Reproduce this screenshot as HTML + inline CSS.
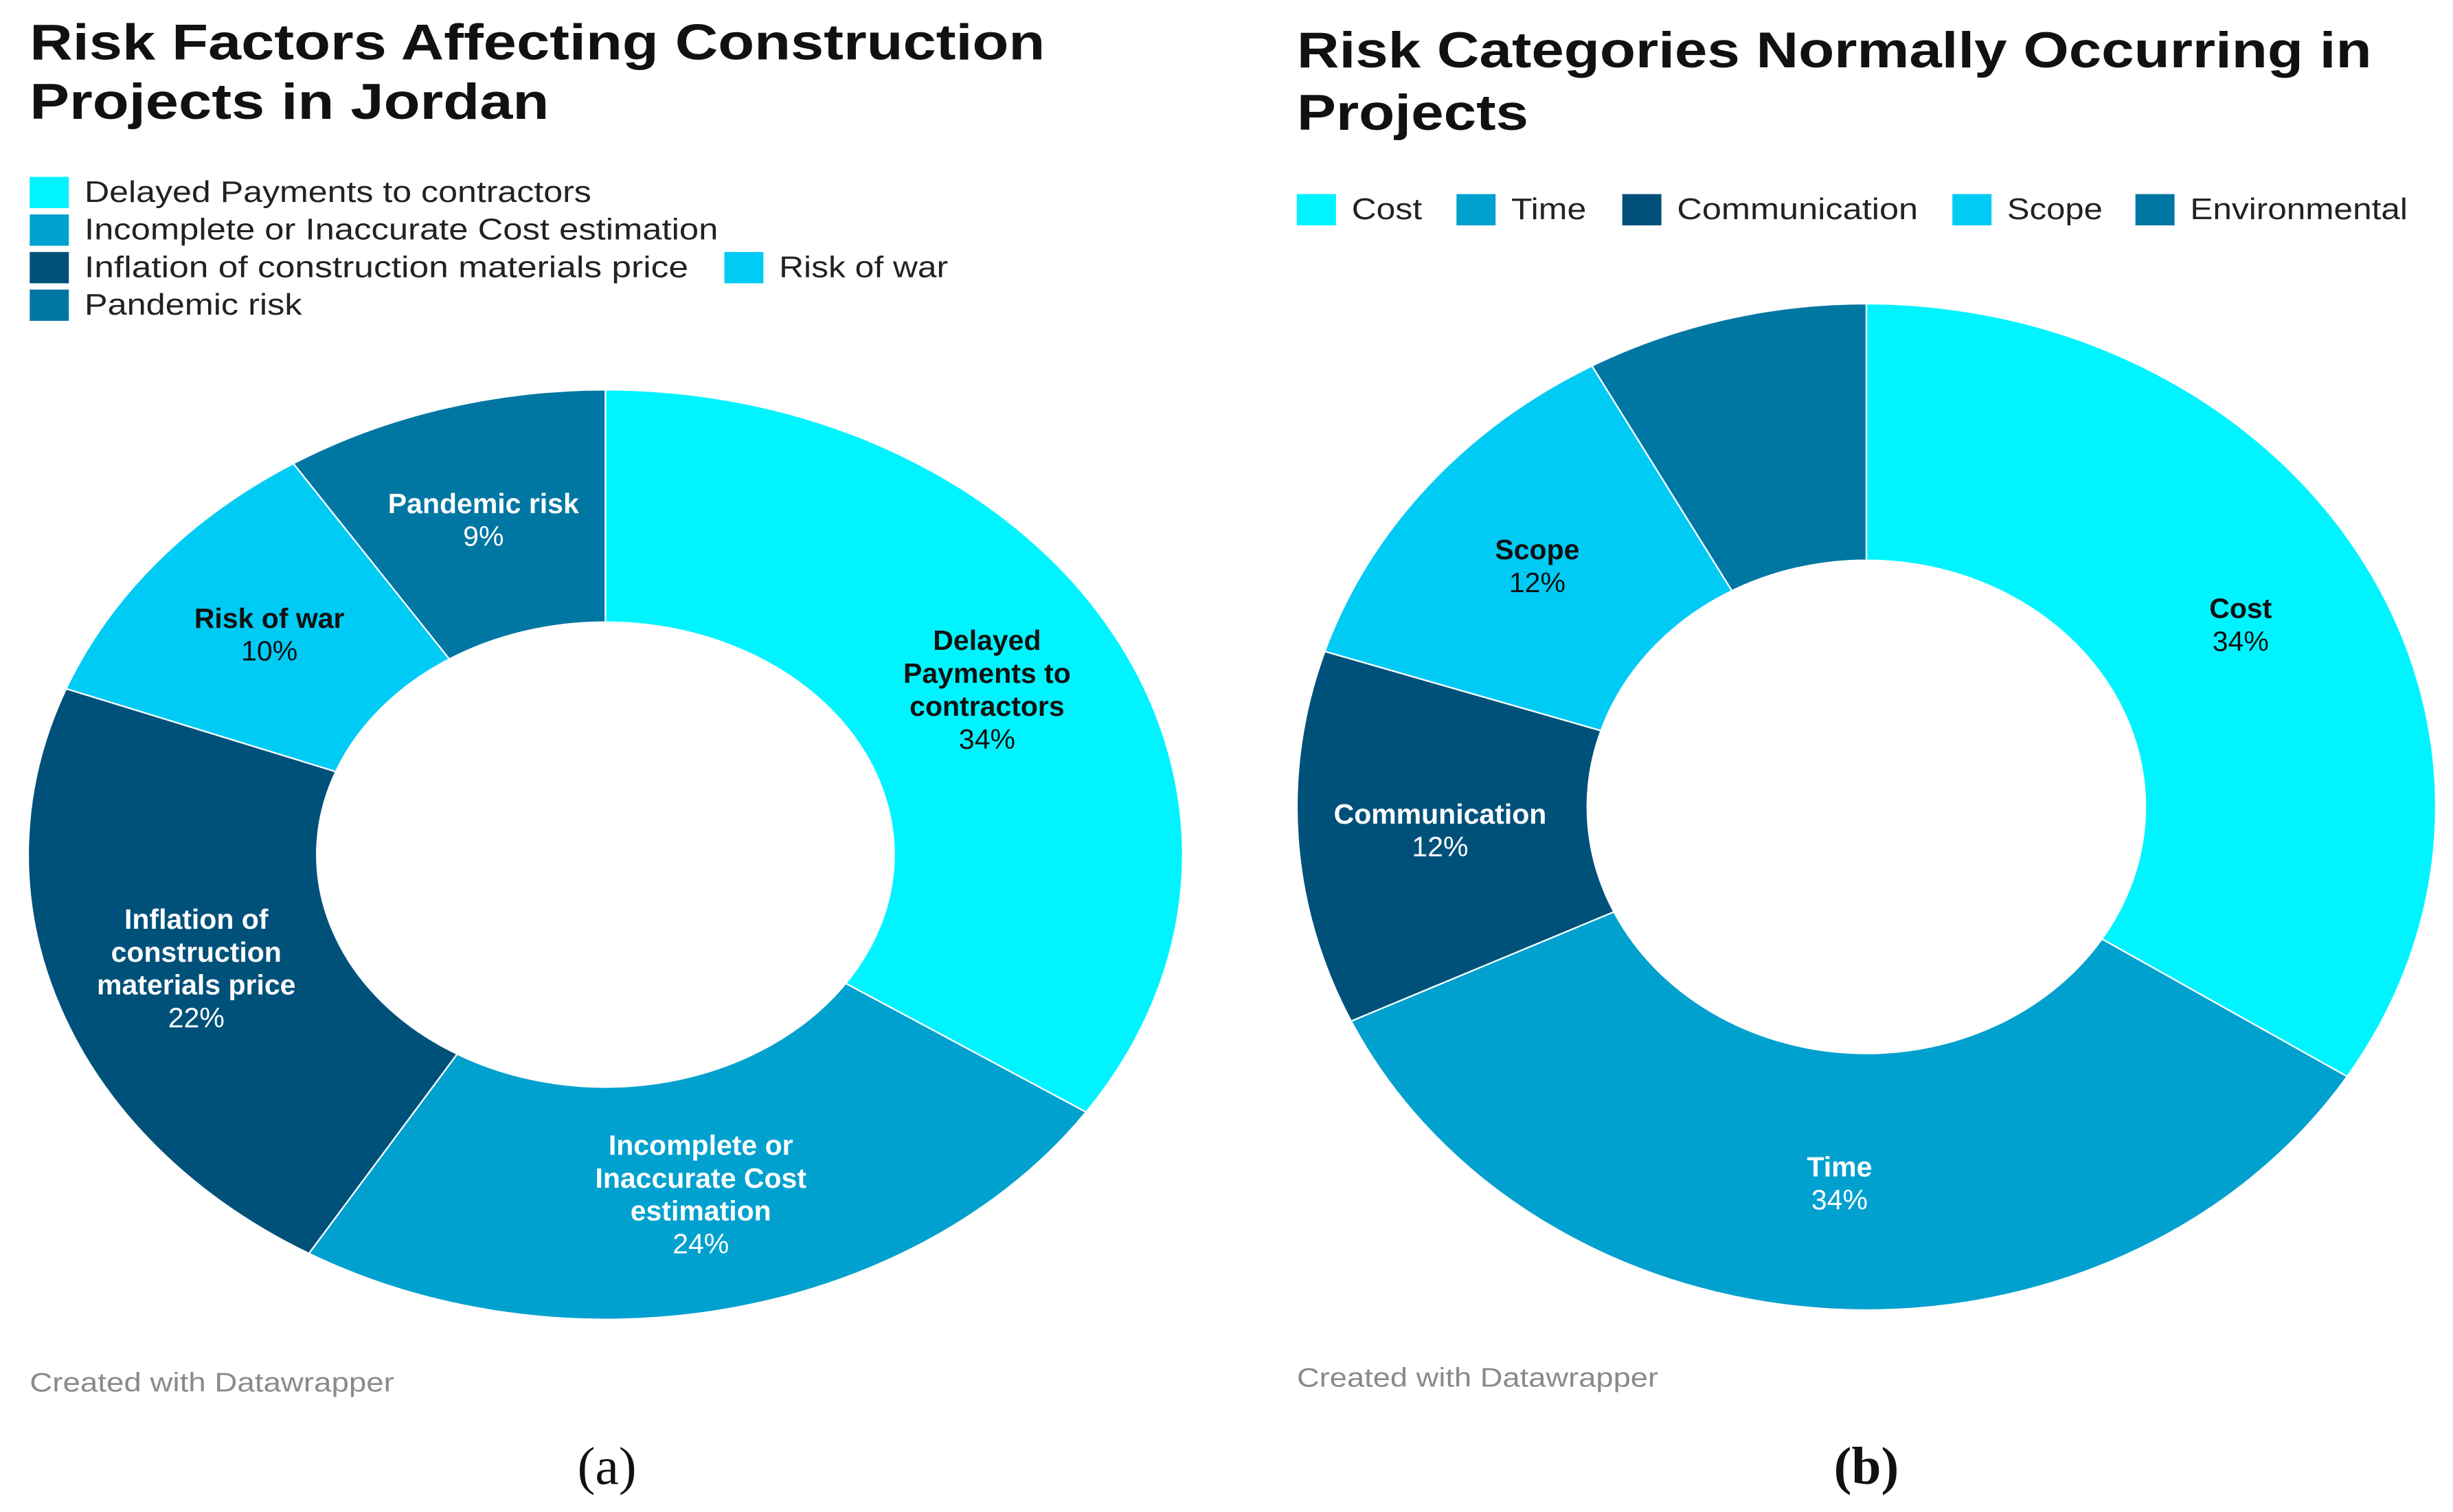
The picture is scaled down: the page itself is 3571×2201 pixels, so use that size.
<!DOCTYPE html>
<html><head><meta charset="utf-8"><style>
html,body{margin:0;padding:0;background:#fff;}
svg{display:block;}
text{font-family:"Liberation Sans",sans-serif;}
</style></head><body>
<svg id="s" width="3571" height="2201" viewBox="0 0 1568 966" preserveAspectRatio="none" xmlns="http://www.w3.org/2000/svg">
<rect width="1568" height="966" fill="#fff"/>
<g>
<text x="19" y="38" font-size="32" font-weight="bold" textLength="649" lengthAdjust="spacingAndGlyphs" fill="#111">Risk Factors Affecting Construction</text>
<text x="19" y="76" font-size="32" font-weight="bold" textLength="332" lengthAdjust="spacingAndGlyphs" fill="#111">Projects in Jordan</text>
<g id="legA"></g>
<g id="donutA"></g>
<text x="19" y="889" font-size="17" fill="#8a8a8a" textLength="233" lengthAdjust="spacingAndGlyphs">Created with Datawrapper</text>
<text x="388" y="948" font-size="34" text-anchor="middle" style="font-family:'Liberation Serif',serif" fill="#111">(a)</text>
</g>
<g>
<text x="829" y="43" font-size="32" font-weight="bold" textLength="687" lengthAdjust="spacingAndGlyphs" fill="#111">Risk Categories Normally Occurring in</text>
<text x="829" y="83" font-size="32" font-weight="bold" textLength="148" lengthAdjust="spacingAndGlyphs" fill="#111">Projects</text>
<g id="legB"></g>
<g id="donutB"></g>
<text x="829" y="886" font-size="17" fill="#8a8a8a" textLength="231" lengthAdjust="spacingAndGlyphs">Created with Datawrapper</text>
<text x="1193" y="948" font-size="34" text-anchor="middle" style="font-family:'Liberation Serif',serif" font-weight="bold" fill="#111">(b)</text>
</g>
</svg>
<script>
const catsA = ["Delayed Payments to contractors","Incomplete or Inaccurate Cost estimation","Inflation of construction materials price","Risk of war","Pandemic risk"];
const valsA = [34,24,22,10,9];
const labelLinesA = [["Delayed","Payments to","contractors"],["Incomplete or","Inaccurate Cost","estimation"],["Inflation of","construction","materials price"],["Risk of war"],["Pandemic risk"]];
const colorsA = ["#00F4FF","#00A1CE","#00517A","#00CBF5","#0077A2"];
const darkTextA = [true,false,false,true,false];

const catsB = ["Cost","Time","Communication","Scope","Environmental"];
const valsB = [34,34,12,12,8];
const showLabelB = [true,true,true,true,false];
const colorsB = ["#00F4FF","#00A1CE","#00517A","#00CBF5","#0077A2"];
const darkTextB = [true,false,false,true,false];

const NS="http://www.w3.org/2000/svg";
function mk(tag,attrs,parent){const e=document.createElementNS(NS,tag);for(const k in attrs)e.setAttribute(k,attrs[k]);parent.appendChild(e);return e;}

function donut(g,cx,cy,rx,ry,inner,vals,cats,lines,colors,dark,show,prefix){
  const total=vals.reduce((a,b)=>a+b,0);
  let acc=0;
  vals.forEach((v,i)=>{
    const a0=acc/total*2*Math.PI, a1=(acc+v)/total*2*Math.PI; acc+=v;
    const P=(a,f)=>[cx+rx*f*Math.sin(a), cy-ry*f*Math.cos(a)];
    const large=(a1-a0)>Math.PI?1:0;
    const o0=P(a0,1),o1=P(a1,1),i1=P(a1,inner),i0=P(a0,inner);
    const d=`M${o0}A${rx},${ry} 0 ${large} 1 ${o1}L${i1}A${rx*inner},${ry*inner} 0 ${large} 0 ${i0}Z`;
    const p=mk("path",{d:d,fill:colors[i],stroke:"#fff","stroke-width":"1"},g);
    
    
    if(show && !show[i]) return;
    const am=(a0+a1)/2, c=P(am,0.75);
    const ls=lines?lines[i]:[cats[i]];
    const all=ls.concat([v+"%"]);
    const lh=21, y0=c[1]-(all.length-1)*lh/2+6;
    const t=mk("text",{x:c[0],y:y0,"text-anchor":"middle","font-size":"18",fill:dark[i]?"#111":"#fff"},g);
    
    
    all.forEach((s,j)=>{const ts=mk("tspan",{x:c[0],dy:j?lh:0,"font-weight":j<all.length-1?"bold":"normal"},t);ts.textContent=s;});
  });
}

function legend(g,items){
  items.forEach(it=>{
    const r=mk("rect",{x:it.x,y:it.y,width:25,height:20,fill:it.c},g);
    
    
    const t=mk("text",{x:it.x+35,y:it.y+16,"font-size":"19",fill:"#222",textLength:it.w,lengthAdjust:"spacingAndGlyphs"},g);
    
    
    t.textContent=it.t;
  });
}
const posA=[[19,113],[19,137],[19,161],[463,161],[19,185]];
const wA=[324,405,386,108,139];
legend(document.getElementById("legA"),catsA.map((t,i)=>({t:t,c:colorsA[i],x:posA[i][0],y:posA[i][1],w:wA[i]})));
const posB=[829,931,1037,1248,1365];
const wB=[45,48,154,61,139];
legend(document.getElementById("legB"),catsB.map((t,i)=>({t:t,c:colorsB[i],x:posB[i],y:124,w:wB[i]})));

donut(document.getElementById("donutA"),387,546,369,297,0.5,valsA,catsA,labelLinesA,colorsA,darkTextA,null,"a");
donut(document.getElementById("donutB"),1193,515.5,364,321.5,0.49,valsB,catsB,null,colorsB,darkTextB,showLabelB,"b");
</script>
</body></html>
